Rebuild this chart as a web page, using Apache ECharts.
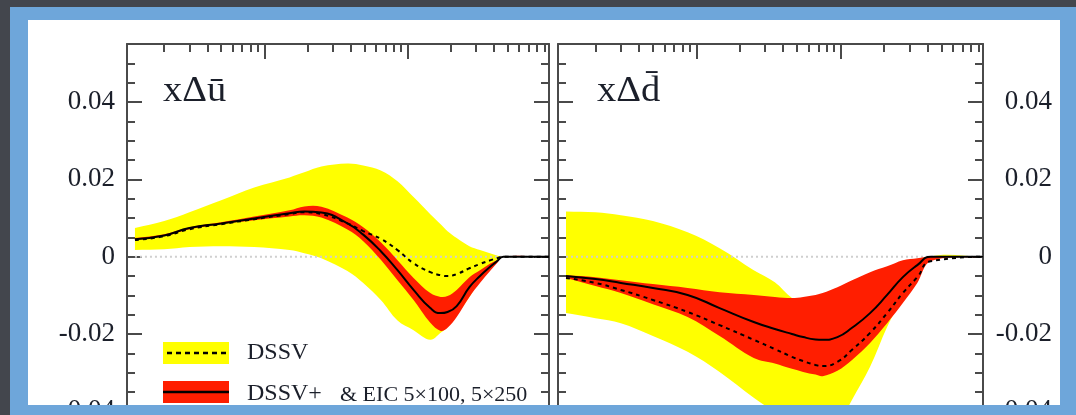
<!DOCTYPE html>
<html>
<head>
<meta charset="utf-8">
<title>xΔū / xΔd̄ : DSSV vs DSSV+ &amp; EIC</title>
<script src="https://cdn.jsdelivr.net/npm/echarts@6/dist/echarts.min.js"></script>
<style>
    html, body { margin: 0; padding: 0; background: #43464d; }
    #chart { width: 1076px; height: 415px; }
</style>
</head>
<body>
<div id="chart"></div>
<script>
// axis ranges (x is logarithmic)
var xMin = 0.0011, xMax = 0.97;
var yMin = -0.05, yMax = 0.055;

// tick positions
var yMajorTicks = [-0.04, -0.02, 0, 0.02, 0.04];
var yMinorTicks = [-0.045, -0.035, -0.03, -0.025, -0.015, -0.01, -0.005, 0.005, 0.01, 0.015, 0.025, 0.03, 0.035, 0.045, 0.05];
var xMajorTicks = [0.01, 0.1];
var xMinorTicks = [0.002, 0.003, 0.004, 0.005, 0.006, 0.007, 0.008, 0.009,
    0.02, 0.03, 0.04, 0.05, 0.06, 0.07, 0.08, 0.09,
    0.2, 0.3, 0.4, 0.5, 0.6, 0.7, 0.8, 0.9];

// left panel: x Δū
var ubarX      = [0.00125, 0.002, 0.003, 0.005, 0.0085, 0.015, 0.019, 0.025, 0.038, 0.049, 0.065, 0.085, 0.11, 0.144, 0.17, 0.19, 0.22, 0.27, 0.32, 0.38, 0.42, 0.465, 0.97];
var ubarDssvHi = [0.0074, 0.0092, 0.0115, 0.0146, 0.0179, 0.0205, 0.0218, 0.0233, 0.0241, 0.0236, 0.0223, 0.0195, 0.0154, 0.0110, 0.0084, 0.0066, 0.0048, 0.0027, 0.0017, 0.0008, 0.0003, 0, 0];
var ubarDssvLo = [0.0017, 0.0019, 0.0025, 0.0027, 0.0025, 0.0017, 0.0009, -0.0004, -0.0037, -0.0068, -0.0112, -0.0165, -0.0190, -0.0215, -0.0197, -0.0182, -0.0151, -0.0104, -0.0061, -0.0027, -0.0009, 0, 0];
var ubarDssv   = [0.0043, 0.0053, 0.0071, 0.0084, 0.0097, 0.0110, 0.0115, 0.0110, 0.0086, 0.0066, 0.0046, 0.0017, -0.0017, -0.0040, -0.0048, -0.0050, -0.0045, -0.0030, -0.0019, -0.0009, -0.0004, 0, 0];
var ubarEicHi  = [0.0048, 0.0058, 0.0076, 0.0089, 0.0104, 0.0120, 0.0130, 0.0129, 0.0101, 0.0076, 0.0037, -0.0009, -0.0055, -0.0094, -0.0104, -0.0102, -0.0086, -0.0053, -0.0035, -0.0017, -0.0009, 0, 0];
var ubarEicLo  = [0.0043, 0.0053, 0.0071, 0.0084, 0.0094, 0.0104, 0.0107, 0.0101, 0.0070, 0.0040, -0.0008, -0.0061, -0.0112, -0.0171, -0.0192, -0.0184, -0.0156, -0.0104, -0.0068, -0.0035, -0.0017, 0, 0];
var ubarEic    = [0.0045, 0.0055, 0.0074, 0.0086, 0.0099, 0.0112, 0.0117, 0.0114, 0.0086, 0.0057, 0.0014, -0.0035, -0.0086, -0.0133, -0.0146, -0.0143, -0.0128, -0.0079, -0.0050, -0.0025, -0.0012, 0, 0];

// right panel: x Δd̄
var dbarX      = [0.00125, 0.002, 0.003, 0.005, 0.0087, 0.0145, 0.025, 0.035, 0.046, 0.055, 0.067, 0.075, 0.095, 0.12, 0.16, 0.21, 0.27, 0.34, 0.42, 0.97];
var dbarDssvHi = [0.0117, 0.0115, 0.0107, 0.0092, 0.0063, 0.0022, -0.0035, -0.0066, -0.0107, -0.0117, -0.0112, -0.0107, -0.0092, -0.0071, -0.0050, -0.0030, -0.0014, -0.0006, 0, 0];
var dbarDssvLo = [-0.0146, -0.0159, -0.0172, -0.0205, -0.0246, -0.0298, -0.0365, -0.0401, -0.0427, -0.0435, -0.0440, -0.0442, -0.0435, -0.0370, -0.0285, -0.0182, -0.0104, -0.0043, 0, 0];
var dbarDssv   = [-0.0055, -0.0068, -0.0086, -0.0112, -0.0143, -0.0177, -0.0215, -0.0239, -0.0259, -0.0270, -0.0280, -0.0283, -0.0272, -0.0241, -0.0197, -0.0146, -0.0094, -0.0053, -0.0012, 0];
var dbarEicHi  = [-0.0048, -0.0053, -0.0061, -0.0071, -0.0081, -0.0092, -0.0099, -0.0104, -0.0107, -0.0104, -0.0099, -0.0094, -0.0079, -0.0061, -0.0040, -0.0025, -0.0009, -0.0004, 0, 0];
var dbarEicLo  = [-0.0055, -0.0076, -0.0094, -0.0123, -0.0156, -0.0205, -0.0262, -0.0276, -0.0290, -0.0298, -0.0305, -0.0309, -0.0295, -0.0267, -0.0223, -0.0172, -0.0120, -0.0068, -0.0012, 0];
var dbarEic    = [-0.0050, -0.0058, -0.0068, -0.0081, -0.0099, -0.0133, -0.0169, -0.0187, -0.0200, -0.0208, -0.0214, -0.0215, -0.0208, -0.0184, -0.0146, -0.0099, -0.0053, -0.0022, 0, 0];

var YELLOW = '#ffff00', RED = '#ff1e00', INK = '#1b1f2a', FRAME = '#4a4a4a', BLUE = '#6ea6da';
var SERIF = '"Liberation Serif", "Times New Roman", serif';

function pairs(xs, ys) {
    return xs.map(function (x, i) { return [x, ys[i]]; });
}

// filled band between lo and hi, drawn as one polygon through the axes
// (end points are doubled so the smoothing keeps the corners sharp)
function band(xs, lo, hi, color, xi, yi, z) {
    return {
        type: 'custom', xAxisIndex: xi, yAxisIndex: yi, z: z, silent: true,
        data: [[xs[0], lo[0]]],
        renderItem: function (params, api) {
            var n = xs.length, pts = [];
            pts.push(api.coord([xs[0], hi[0]]));
            for (var i = 0; i < n; i++) pts.push(api.coord([xs[i], hi[i]]));
            pts.push(api.coord([xs[n - 1], hi[n - 1]]));
            pts.push(api.coord([xs[n - 1], lo[n - 1]]));
            for (var j = n - 1; j >= 0; j--) pts.push(api.coord([xs[j], lo[j]]));
            pts.push(api.coord([xs[0], lo[0]]));
            return { type: 'polygon', shape: { points: pts, smooth: 0.35 }, style: { fill: color } };
        }
    };
}

function curve(xs, ys, dashed, xi, yi, z) {
    return {
        type: 'line', xAxisIndex: xi, yAxisIndex: yi, z: z, silent: true,
        data: pairs(xs, ys), smooth: 0.5, showSymbol: false,
        lineStyle: { color: '#000', width: 2, type: dashed ? [4, 4] : 'solid' }
    };
}

function zeroLine(xs, xi, yi) {
    return {
        type: 'line', xAxisIndex: xi, yAxisIndex: yi, z: 2, silent: true,
        data: [[xs[0], 0], [xs[xs.length - 1], 0]], showSymbol: false,
        lineStyle: { color: '#cfcfcf', width: 2, type: [2, 3] }
    };
}

var logMin = Math.log10(xMin), logMax = Math.log10(xMax);
var majorLog = xMajorTicks.map(Math.log10), minorLog = xMinorTicks.map(Math.log10);

// x axes: one log axis for the data and two tick-only axes per panel
function xAxes(grid) {
    return [
        { type: 'log', logBase: 10, gridIndex: grid, position: 'top', min: xMin, max: xMax,
          axisLine: { show: true, onZero: false, lineStyle: { color: FRAME, width: 2 } },
          axisTick: { show: false }, axisLabel: { show: false }, splitLine: { show: false } },
        { type: 'value', gridIndex: grid, position: 'top', min: logMin, max: logMax,
          axisLine: { show: false, onZero: false }, axisLabel: { show: false }, splitLine: { show: false },
          axisTick: { inside: true, length: 15, customValues: majorLog, lineStyle: { color: FRAME, width: 2 } } },
        { type: 'value', gridIndex: grid, position: 'top', min: logMin, max: logMax,
          axisLine: { show: false, onZero: false }, axisLabel: { show: false }, splitLine: { show: false },
          axisTick: { inside: true, length: 8, customValues: minorLog, lineStyle: { color: FRAME, width: 2 } } }
    ];
}

function yAxes(grid, side, labels) {
    return [
        { type: 'value', gridIndex: grid, position: side, min: yMin, max: yMax,
          axisLine: { show: true, onZero: false, lineStyle: { color: FRAME, width: 2 } }, splitLine: { show: false },
          axisTick: { inside: true, length: 15, customValues: yMajorTicks, lineStyle: { color: FRAME, width: 2 } },
          axisLabel: labels ? {
              show: true, customValues: yMajorTicks, color: INK, fontFamily: SERIF, fontSize: 27,
              align: 'right', margin: side === 'left' ? 12 : 69
          } : { show: false } },
        { type: 'value', gridIndex: grid, position: side, min: yMin, max: yMax,
          axisLine: { show: false, onZero: false }, splitLine: { show: false }, axisLabel: { show: false },
          axisTick: { inside: true, length: 8, customValues: yMinorTicks, lineStyle: { color: FRAME, width: 2 } } }
    ];
}

var xAxisList = xAxes(0).concat(xAxes(1));               // 0..2 left, 3..5 right
var yAxisList = yAxes(0, 'left', true).concat(yAxes(0, 'right', false))      // 0..3 left panel
    .concat(yAxes(1, 'left', false)).concat(yAxes(1, 'right', true));         // 4..7 right panel

var option = {
    backgroundColor: '#43464d',
    animation: false,
    grid: [
        { left: 127, width: 422, top: 44, height: 406, outerBoundsMode: 'none' },
        { left: 558, width: 425, top: 44, height: 406, outerBoundsMode: 'none' }
    ],
    xAxis: xAxisList,
    yAxis: yAxisList,
    series: [
        band(ubarX, ubarDssvLo, ubarDssvHi, YELLOW, 0, 0, 1),
        zeroLine(ubarX, 0, 0),
        band(ubarX, ubarEicLo, ubarEicHi, RED, 0, 0, 3),
        curve(ubarX, ubarDssv, true, 0, 0, 4),
        curve(ubarX, ubarEic, false, 0, 0, 5),

        band(dbarX, dbarDssvLo, dbarDssvHi, YELLOW, 3, 4, 1),
        zeroLine(dbarX, 3, 4),
        band(dbarX, dbarEicLo, dbarEicHi, RED, 3, 4, 3),
        curve(dbarX, dbarDssv, true, 3, 4, 4),
        curve(dbarX, dbarEic, false, 3, 4, 5)
    ],
    graphic: [
        // slide frame
        { type: 'rect', z: -10, shape: { x: 10, y: 7, width: 1066, height: 408 }, style: { fill: BLUE } },
        { type: 'rect', z: -9, shape: { x: 28, y: 20, width: 1032, height: 390 }, style: { fill: '#ffffff' } },
        { type: 'rect', z: 100, shape: { x: 10, y: 405, width: 1066, height: 10 }, style: { fill: BLUE } },
        // panel titles
        { type: 'text', z: 10, x: 163, y: 74, scaleX: 1.1,
          style: { text: 'xΔū', font: '35px ' + SERIF, fill: INK } },
        { type: 'text', z: 10, x: 597, y: 74, scaleX: 1.1,
          style: { text: 'xΔd\u0304', font: '35px ' + SERIF, fill: INK } },
        // legend
        { type: 'rect', z: 10, shape: { x: 163, y: 342, width: 66, height: 22 }, style: { fill: YELLOW } },
        { type: 'line', z: 11, shape: { x1: 167, y1: 353, x2: 226, y2: 353 }, style: { stroke: '#000', lineWidth: 2.5, lineDash: [5, 4] } },
        { type: 'text', z: 10, x: 247, y: 353,
          style: { text: 'DSSV', font: '24px ' + SERIF, fill: INK, verticalAlign: 'middle' } },
        { type: 'rect', z: 10, shape: { x: 163, y: 381, width: 66, height: 22 }, style: { fill: RED } },
        { type: 'line', z: 11, shape: { x1: 163, y1: 392, x2: 229, y2: 392 }, style: { stroke: '#000', lineWidth: 2.5 } },
        { type: 'text', z: 10, x: 247, y: 394,
          style: { text: 'DSSV+', font: '24px ' + SERIF, fill: INK, verticalAlign: 'middle' } },
        { type: 'text', z: 10, x: 340, y: 395,
          style: { text: '& EIC 5×100, 5×250', font: '22px ' + SERIF, fill: INK, verticalAlign: 'middle' } }
    ]
};

var myChart = echarts.init(document.getElementById('chart'));
myChart.setOption(option);
</script>
</body>
</html>
